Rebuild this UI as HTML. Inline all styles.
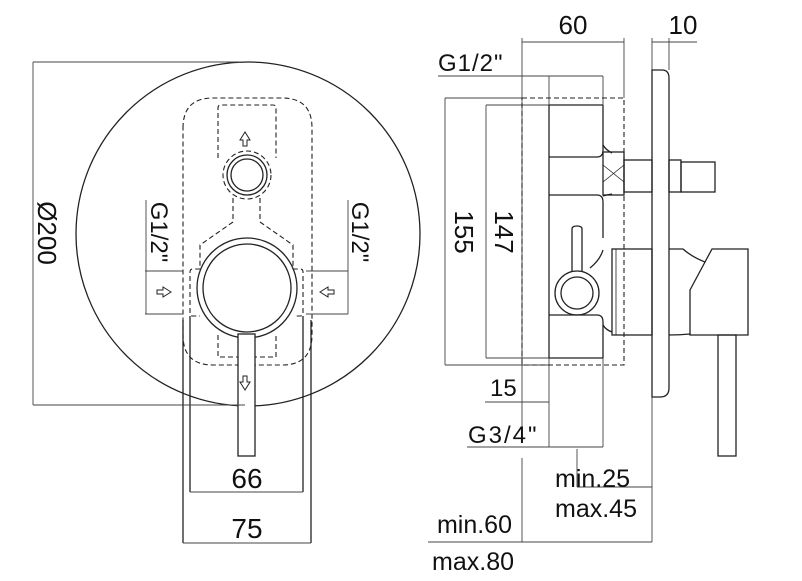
<!DOCTYPE html>
<html><head><meta charset="utf-8"><style>
html,body{margin:0;padding:0;background:#fff;width:802px;height:581px;overflow:hidden}
svg{display:block}
text{font-family:"Liberation Sans",sans-serif;fill:#111}
</style></head><body>
<svg width="802" height="581" viewBox="0 0 802 581" xmlns="http://www.w3.org/2000/svg">
<g fill="none" stroke="#222" stroke-width="1.3">
<circle cx="248" cy="234" r="172"/>
<g stroke-dasharray="5,3" stroke-width="1.1">
<path d="M183 128 Q183 98 213 98 L282 98 Q312 98 312 128 L312 335 Q312 365 282 365 L213 365 Q183 365 183 335 Z"/>
<path d="M218 158 L218 108 Q218 105 221 105 L273 105 Q276 105 276 108 L276 158"/>
<circle cx="247" cy="175" r="24"/>
<path d="M233 198 L233 222 L200 245 L200 269 L193 269 Q190 269 190 272 L190 313 Q190 316 193 316 L200 316"/>
<path d="M260 198 L260 222 L293 245 L293 269 L300 269 Q303 269 303 272 L303 313 Q303 316 300 316 L295 316"/>
<path d="M218 335 L218 357 L276 357 L276 335"/>
</g>
<circle cx="247" cy="175" r="20"/>
<circle cx="247" cy="175" r="16"/>
<circle cx="247" cy="288" r="50"/>
<circle cx="247" cy="288" r="44"/>
<rect x="238" y="334" width="17" height="122" fill="#fff"/>
<path d="M245 132 L240 140 L243 140 L243 146 L247 146 L247 140 L250 140 Z" stroke-width="1"/>
<path d="M245 390 L240 382 L243 382 L243 376 L247 376 L247 382 L250 382 Z" stroke-width="1"/>
<path d="M171 292 L163 287 L163 290 L157 290 L157 294 L163 294 L163 297 Z" stroke-width="1"/>
<path d="M320 292 L328 287 L328 290 L334 290 L334 294 L328 294 L328 297 Z" stroke-width="1"/>
<line x1="183" y1="320" x2="183" y2="543"/>
<line x1="190" y1="316" x2="190" y2="492"/>
<line x1="303" y1="316" x2="303" y2="492"/>
<line x1="311" y1="320" x2="311" y2="543"/>
</g>
<g stroke="#444" stroke-width="0.9" fill="none">
<line x1="33" y1="62" x2="33" y2="405"/>
<line x1="33" y1="62" x2="240" y2="62"/>
<line x1="33" y1="405" x2="245" y2="405"/>
<line x1="146" y1="200" x2="146" y2="314"/>
<line x1="145" y1="271" x2="183" y2="271"/>
<line x1="145" y1="314" x2="183" y2="314"/>
<line x1="348" y1="200" x2="348" y2="314"/>
<line x1="306" y1="271" x2="348" y2="271"/>
<line x1="306" y1="314" x2="348" y2="314"/>
<line x1="190" y1="492" x2="303" y2="492"/>
<line x1="183" y1="543" x2="311" y2="543"/>
</g>
<text transform="translate(38,233) rotate(90)" font-size="26" text-anchor="middle">Ø200</text>
<text transform="translate(151,232) rotate(90)" font-size="24" text-anchor="middle">G1/2"</text>
<text transform="translate(352,232) rotate(90)" font-size="24" text-anchor="middle">G1/2"</text>
<text x="247" y="488" font-size="28" text-anchor="middle">66</text>
<text x="247" y="538" font-size="28" text-anchor="middle">75</text>

<g stroke="#444" stroke-width="0.9" fill="none">
<line x1="522" y1="42" x2="624" y2="42"/>
<line x1="522" y1="38" x2="522" y2="438"/>
<line x1="522" y1="458" x2="522" y2="542"/>
<line x1="624" y1="38" x2="624" y2="98"/>
<line x1="652" y1="42" x2="697" y2="42"/>
<line x1="652" y1="38" x2="652" y2="70"/>
<line x1="669" y1="38" x2="669" y2="70"/>
<line x1="438" y1="76" x2="603" y2="76"/>
<line x1="549" y1="76" x2="549" y2="105"/>
<line x1="603" y1="76" x2="603" y2="105"/>
<line x1="445" y1="98" x2="445" y2="365"/>
<line x1="445" y1="98" x2="522" y2="98"/>
<line x1="445" y1="365" x2="549" y2="365"/>
<line x1="486" y1="105" x2="486" y2="358"/>
<line x1="486" y1="105" x2="549" y2="105"/>
<line x1="486" y1="358" x2="549" y2="358"/>
<line x1="485" y1="402" x2="549" y2="402"/>
<line x1="467" y1="447" x2="603" y2="447"/>
<line x1="549" y1="358" x2="549" y2="447"/>
<line x1="603" y1="358" x2="603" y2="447"/>
<line x1="577" y1="449" x2="577" y2="487"/>
<line x1="577" y1="487" x2="652" y2="487"/>
<line x1="652" y1="397" x2="652" y2="542"/>
<line x1="428" y1="542" x2="652" y2="542"/>
</g>
<g fill="none" stroke="#222" stroke-width="1.3">
<rect x="522" y="98" width="102" height="267" stroke-dasharray="5,3" stroke-width="1.1"/>
<line x1="549" y1="105" x2="549" y2="358"/>
<line x1="549" y1="105" x2="603" y2="105"/>
<line x1="549" y1="358" x2="603" y2="358"/>
<path d="M549 157 L597 157 Q603 157 603 150 L603 105"/>
<path d="M549 195 L597 195 Q603 195 603 202 L603 238"/>
<path d="M603 145 Q606 150 612 153"/>
<path d="M603 196 Q606 195 612 194"/>
<path d="M549 315 L597 315 Q603 315 603 322 L603 358"/>
<path d="M603 250 Q600 260 590 268"/>
<path d="M603 325 Q606 330 612 332"/>
<rect x="603" y="152" width="21" height="43"/>
<path d="M603 165 L624 182 M603 182 L624 165" stroke-width="0.8"/>
<rect x="624" y="160" width="28" height="32"/>
<path d="M652 397 L652 70 L662 70 Q669 70 669 78 L669 388 Q669 397 660 397 Z"/>
<rect x="669" y="160" width="12" height="32"/>
<rect x="681" y="162" width="34" height="30"/>
<circle cx="577" cy="293" r="22"/>
<circle cx="577" cy="293" r="16"/>
<path d="M572 271 L572 229 Q572 226 577 226 Q582 226 582 229 L582 271"/>
<rect x="612" y="249" width="40" height="86"/>
<line x1="616" y1="249" x2="616" y2="335" stroke-width="0.8"/>
<path d="M669 249 L683 249 Q692 257 705 262 L712 249 L748 249 L748 335 L690 335 L690 334 Q680 335 669 335"/>
<path d="M705 262 L690 290 L690 334"/>
<rect x="718" y="335" width="18" height="121"/>
</g>
<text x="573" y="34" font-size="26" text-anchor="middle">60</text>
<text x="683" y="34" font-size="26" text-anchor="middle">10</text>
<text x="438" y="71" font-size="24" letter-spacing="1">G1/2"</text>
<text transform="translate(455,232) rotate(90)" font-size="26" text-anchor="middle">155</text>
<text transform="translate(495,232) rotate(90)" font-size="26" text-anchor="middle">147</text>
<text x="490" y="396" font-size="24">15</text>
<text x="468" y="443" font-size="24" letter-spacing="2">G3/4"</text>
<text x="555" y="487" font-size="25">min.25</text>
<text x="555" y="517" font-size="25">max.45</text>
<text x="512" y="533" font-size="25" text-anchor="end">min.60</text>
<text x="514" y="570" font-size="25" text-anchor="end">max.80</text>
</svg>
</body></html>
